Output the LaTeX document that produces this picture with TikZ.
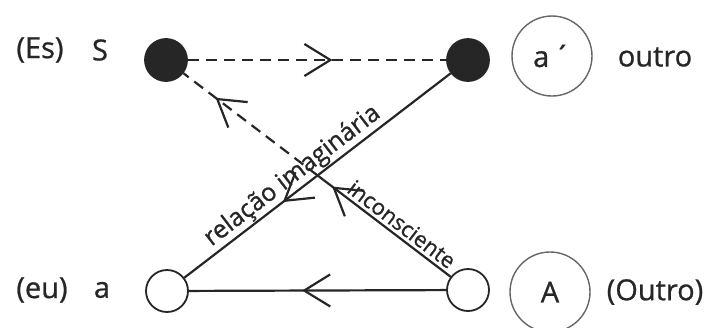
\documentclass[tikz,border=0pt]{standalone}
\usepackage{fontspec}
\setmainfont{Open Sans}[FakeBold=0.8,AutoFakeBold=0.8]
\usetikzlibrary{arrows.meta,decorations.markings}
\definecolor{ink}{gray}{0.15}

\begin{document}
\begin{tikzpicture}[x=1pt,y=-1pt,line width=2.2pt,color=ink,
  >={Straight Barb[length=26pt,width=32pt]},
  font=\fontsize{29}{32}\selectfont\bfseries,
  dot/.style={circle,draw,minimum size=42pt,inner sep=0pt,line width=1.8pt},
  big/.style={circle,draw=black!60,line width=1.4pt,minimum size=80pt,inner sep=0pt},
  lbl/.style={sloped,above,inner sep=1pt},
  dsh/.style={dash pattern=on 11pt off 7pt},
  arrowat/.style={postaction={decorate},decoration={markings,mark=at position #1 with {\arrow[solid]{>}}}}]
\useasboundingbox (0,0) rectangle (711,327);
% the four corners
\node[dot,fill] (S) at (166,60) {};
\node[dot,fill] (ap) at (468,60) {};
\node[dot] (a) at (167,291) {};
\node[dot] (A) at (468,290) {};
\node[big] (apc) at (552,56) {a\,´};
\node[big] (Ac) at (550,292) {A};
% names
\node (es) at (40,50) {(Es)};
\node (s) at (100,50) {S};
\node (outro) at (655,57) {outro};
\node (eu) at (42,290) {(eu)};
\node (al) at (102,290) {a};
\node (outroA) at (655,292) {(Outro)};
% relations
\coordinate (X) at (intersection of S--A and ap--a);
\draw[dsh,arrowat=0.56] (S) -- (ap);
\draw[arrowat=0.63] (ap) -- (a);
\draw[arrowat=0.56] (A) -- (a);
\draw[arrowat=0.89] (A) -- (X);
\draw[dsh,arrowat=0.76] (X) -- (S);
\path (a) -- (ap) node[lbl,pos=0.44,font=\fontsize{25}{28}\selectfont\bfseries] {relação imaginária};
\path (S) -- (A) node[lbl,pos=0.79,above=2pt,font=\fontsize{22}{25}\selectfont\bfseries] {inconsciente};
\end{tikzpicture}
\end{document}
